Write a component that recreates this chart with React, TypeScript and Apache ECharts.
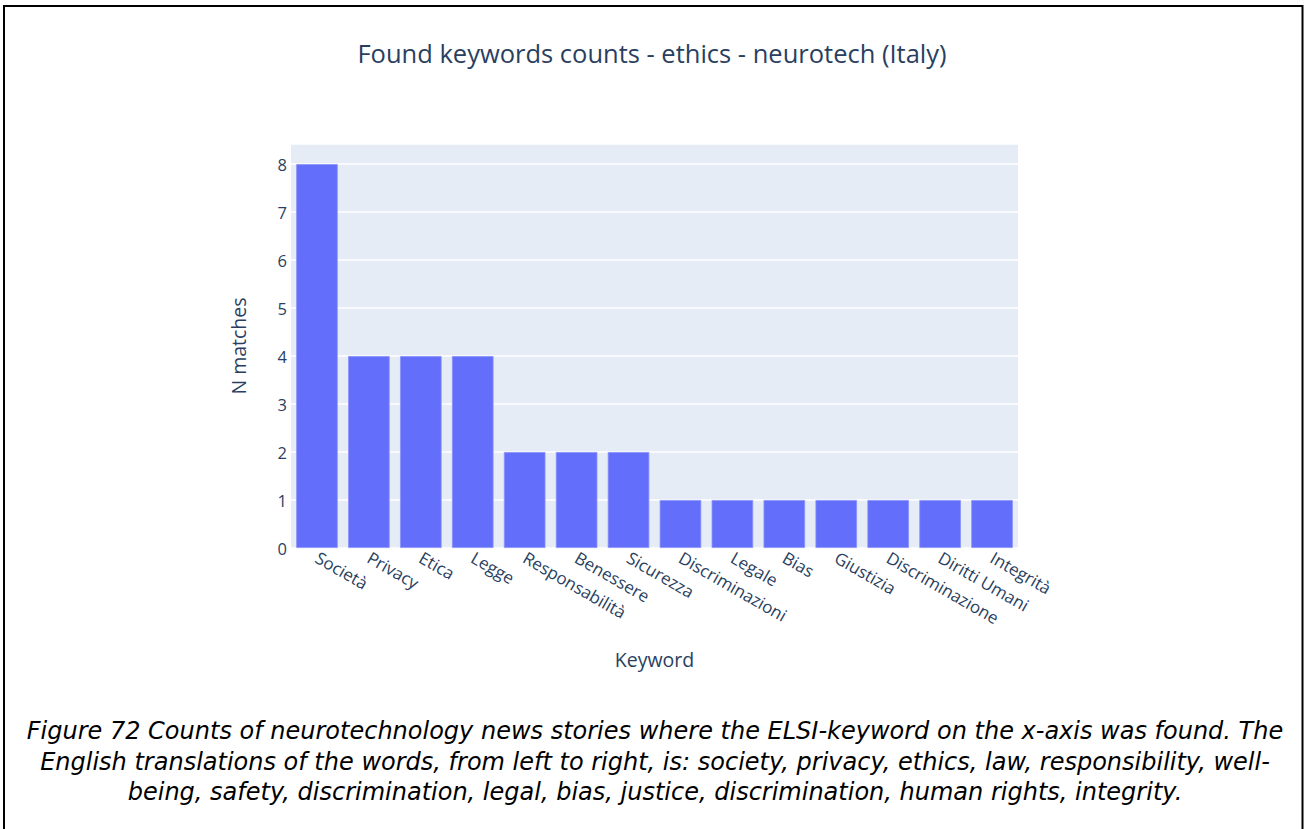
import React, { useEffect, useRef } from "react";
import * as echarts from "echarts";

const keywords = [
  "Società", "Privacy", "Etica", "Legge", "Responsabilità", "Benessere", "Sicurezza",
  "Discriminazioni", "Legale", "Bias", "Giustizia", "Discriminazione", "Diritti Umani", "Integrità",
];
const matches = [8, 4, 4, 4, 2, 2, 2, 1, 1, 1, 1, 1, 1, 1];
const yTicks = [0, 1, 2, 3, 4, 5, 6, 7, 8];
const chartTitle = "Found keywords counts - ethics - neurotech (Italy)";
const xTitle = "Keyword";
const yTitle = "N matches";
const captionLines = [
  "Figure 72 Counts of neurotechnology news stories where the ELSI-keyword on the x-axis was found. The",
  "English translations of the words, from left to right, is: society, privacy, ethics, law, responsibility, well-",
  "being, safety, discrimination, legal, bias, justice, discrimination, human rights, integrity.",
];

const FONT = "'Open Sans', verdana, arial, sans-serif";
const CAPTION_FONT = "'DejaVu Sans', 'Open Sans', sans-serif";
const INK = "#2a3f5f";

export default function App() {
  const ref = useRef<HTMLDivElement>(null);
  useEffect(() => {
    if (!ref.current) return;
    const chart = echarts.init(ref.current, undefined, { renderer: "svg" });
    const yMax = Math.max(...matches) * 1.0526;
    chart.setOption({
      animation: false,
      backgroundColor: "#ffffff",
      title: {
        text: chartTitle,
        left: 647,
        top: 35,
        textAlign: "center",
        textStyle: { fontFamily: FONT, fontSize: 25.5, fontWeight: "normal", color: INK },
      },
      grid: {
        left: 291,
        top: 144,
        width: 727,
        height: 404,
        show: true,
        backgroundColor: "#E5ECF6",
        borderWidth: 0,
        containLabel: false,
      },
      xAxis: {
        type: "category",
        data: keywords,
        name: xTitle,
        nameLocation: "middle",
        nameGap: 101,
        nameTextStyle: { fontFamily: FONT, fontSize: 19.5, color: INK },
        axisLine: { show: false },
        axisTick: { show: false },
        axisLabel: {
          rotate: -30,
          interval: 0,
          margin: 8,
          fontFamily: FONT,
          fontSize: 17,
          color: INK,
        },
      },
      yAxis: {
        type: "value",
        min: 0,
        max: yMax,
        interval: 1,
        name: yTitle,
        nameLocation: "middle",
        nameGap: 43,
        nameTextStyle: { fontFamily: FONT, fontSize: 19.5, color: INK },
        axisLine: { show: false },
        axisTick: { show: false },
        splitLine: { show: true, lineStyle: { color: "#ffffff", width: 1.5 } },
        axisLabel: {
          margin: 4,
          fontFamily: FONT,
          fontSize: 16.5,
          color: INK,
          formatter: (v: number) => (yTicks.includes(v) ? String(v) : ""),
        },
      },
      series: [
        {
          type: "bar",
          data: matches,
          barCategoryGap: "20%",
          itemStyle: { color: "#636efa", borderColor: "#8a92fb", borderWidth: 0.8 },
        },
      ],
      graphic: [
        {
          type: "polyline",
          shape: { points: [[4, 829], [4, 6], [1302.5, 6], [1302.5, 829]] },
          style: { stroke: "#000000", lineWidth: 2, fill: "none" },
        },
        ...captionLines.map((line, i) => ({
          type: "text",
          x: 655,
          y: 731 + i * 30.5,
          style: {
            text: line,
            fontFamily: CAPTION_FONT,
            fontStyle: "italic",
            fontSize: 24,
            fill: "#000000",
            align: "center",
            verticalAlign: "middle",
          },
        })),
      ],
    });
    return () => chart.dispose();
  }, []);
  return (
    <div
      ref={ref}
      style={{ position: "absolute", left: 0, top: 0, width: 1304, height: 829 }}
    />
  );
}
